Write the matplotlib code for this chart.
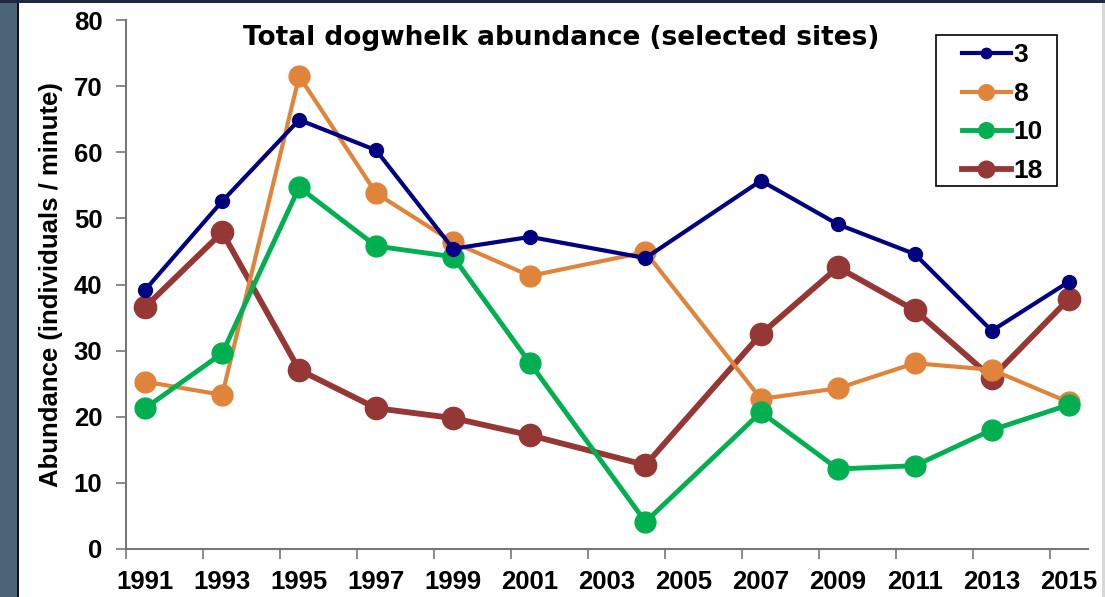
import matplotlib.pyplot as plt
from matplotlib.patches import Rectangle

years = [1991, 1993, 1995, 1997, 1999, 2001, 2004, 2007, 2009, 2011, 2013, 2015]
site_3 = [39.2, 52.6, 64.9, 60.3, 45.4, 47.2, 44.0, 55.7, 49.1, 44.6, 33.0, 40.4]
site_8 = [25.3, 23.3, 71.5, 53.8, 46.4, 41.3, 44.9, 22.7, 24.3, 28.1, 27.1, 22.2]
site_10 = [21.3, 29.6, 54.7, 45.8, 44.2, 28.1, 4.1, 20.7, 12.1, 12.6, 18.0, 21.8]
site_18 = [36.6, 47.9, 27.1, 21.3, 19.8, 17.2, 12.7, 32.5, 42.6, 36.1, 25.9, 37.8]
tick_years = list(range(1991, 2016, 2))

plt.rcParams['font.family'] = ['Liberation Sans', 'DejaVu Sans']

fig = plt.figure(figsize=(11.05, 5.97), dpi=100)
fig.patch.set_facecolor('white')

# slide background strips
fig.add_artist(Rectangle((0, 0), 17 / 1105, 1, transform=fig.transFigure,
                         facecolor='#4b6478', edgecolor='none', zorder=0))
fig.add_artist(Rectangle((17 / 1105, 0), 1.5 / 1105, 1, transform=fig.transFigure,
                         facecolor='#111111', edgecolor='none', zorder=0))
fig.add_artist(Rectangle((0, 1 - 3 / 597), 1, 3 / 597, transform=fig.transFigure,
                         facecolor='#1e2840', edgecolor='none', zorder=0))
fig.add_artist(Rectangle((1102 / 1105, 0), 3 / 1105, 1 - 3 / 597, transform=fig.transFigure,
                         facecolor='#d8d8d8', edgecolor='none', zorder=0))

ax = fig.add_axes([126 / 1105, 1 - 549 / 597, (1088 - 126) / 1105, (549 - 20) / 597])

ax.plot(years, site_3, color='#000080', lw=3, marker='o', ms=10, label='3', zorder=5)
ax.plot(years, site_8, color='#e0843c', lw=3, marker='o', ms=15, label='8', zorder=3)
ax.plot(years, site_10, color='#00b050', lw=3.5, marker='o', ms=15, label='10', zorder=4)
ax.plot(years, site_18, color='#953735', lw=4.2, marker='o', ms=16, label='18', zorder=2)

ax.set_xlim(1990.5, 2015.5)
ax.set_ylim(0, 80)
ax.set_yticks(range(0, 81, 10))
ax.set_xticks([y - 0.5 for y in tick_years])
ax.set_xticklabels([])
ax.set_xticks(tick_years, minor=True)
ax.set_xticklabels([str(y) for y in tick_years], minor=True, fontsize=18.5, fontweight='bold')
ax.tick_params(axis='x', which='minor', length=0, pad=15)
ax.tick_params(axis='x', which='major', direction='out', length=7, width=1.2, color='#777777')
ax.tick_params(axis='y', direction='out', length=7, width=1.2, color='#777777', labelsize=18.5, pad=10)
for lab in ax.get_yticklabels():
    lab.set_fontweight('bold')

for side in ['top', 'right']:
    ax.spines[side].set_visible(False)
for side in ['left', 'bottom']:
    ax.spines[side].set_color('#777777')
    ax.spines[side].set_linewidth(1.5)

ax.set_ylabel('Abundance (individuals / minute)', fontsize=18.5, fontweight='bold', labelpad=8)
ax.text(0.452, 0.966, 'Total dogwhelk abundance (selected sites)', transform=ax.transAxes,
        ha='center', va='center', fontsize=19, fontweight='bold', family='DejaVu Sans')

# legend box drawn separately so the padding matches the original
ax.add_patch(Rectangle((0.842, 0.686), 0.126, 0.2856, transform=ax.transAxes,
                       facecolor='white', edgecolor='black', lw=1.2, zorder=6))
leg = ax.legend(loc='upper left', bbox_to_anchor=(0.869, 0.956), borderaxespad=0,
                prop={'weight': 'bold', 'size': 19}, frameon=False,
                handlelength=1.85, handletextpad=0.1, labelspacing=0.55, borderpad=0,
                markerscale=0.75)
leg.set_zorder(7)

fig.savefig('out.png', dpi=100)
